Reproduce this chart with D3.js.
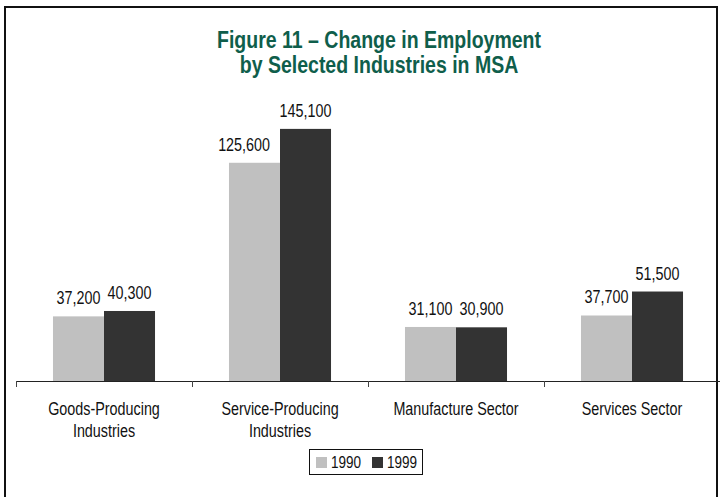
<!DOCTYPE html>
<html>
<head>
<meta charset="utf-8">
<script src="https://cdn.jsdelivr.net/npm/d3@7"></script>
<style>
  html, body { margin: 0; padding: 0; background: #fff; }
  svg { display: block; }
  text { font-family: "Liberation Sans", Arial, sans-serif; }
</style>
</head>
<body>
<svg id="chart" width="720" height="497"></svg>
<script>
const titleLines = ["Figure 11 \u2013 Change in Employment", "by Selected Industries in MSA"];
const categories = [["Goods-Producing", "Industries"], ["Service-Producing", "Industries"], ["Manufacture Sector"], ["Services Sector"]];
const seriesNames = ["1990", "1999"];
const values1990 = [37200, 125600, 31100, 37700];
const values1999 = [40300, 145100, 30900, 51500];
const colors = ["#c0c0c0", "#333333"];

// horizontal squeeze that gives the regular sans a narrow cut
const NARROW = 0.82;

const svg = d3.select("#chart");

function narrowText(parent, x, y, str, size, opts = {}) {
  return parent.append("text")
    .attr("transform", `translate(${x},${y}) scale(${NARROW},1)`)
    .attr("text-anchor", opts.anchor || "middle")
    .attr("font-size", size)
    .attr("font-weight", opts.weight || "normal")
    .attr("fill", opts.fill || "#111")
    .text(str);
}

// outer frame
svg.append("rect")
  .attr("x", 5).attr("y", 7).attr("width", 712).attr("height", 500)
  .attr("fill", "none").attr("stroke", "#111").attr("stroke-width", 2);

// title
titleLines.forEach((t, i) => {
  narrowText(svg, 379, 48 + i * 25, t, 23.8, { weight: "bold", fill: "#0f5e4b" });
});

const x0 = d3.scaleBand().domain(d3.range(categories.length)).range([16, 720]).paddingInner(0).paddingOuter(0);
const x1 = d3.scaleBand().domain(seriesNames).range([0, x0.bandwidth()]).paddingInner(0).paddingOuter(0.725);
const y = d3.scaleLinear().domain([0, 160000]).range([381, 103]);

const data = categories.map((c, i) => ({ i, vals: [values1990[i], values1999[i]] }));

const groups = svg.append("g").selectAll("g").data(data).join("g")
  .attr("transform", d => `translate(${x0(d.i)},0)`);

groups.selectAll("rect").data(d => d.vals.map((v, k) => ({ v, k }))).join("rect")
  .attr("x", d => x1(seriesNames[d.k]))
  .attr("y", d => y(d.v))
  .attr("width", x1.bandwidth())
  .attr("height", d => y(0) - y(d.v))
  .attr("fill", d => colors[d.k]);

// value labels; a label that would run into a taller neighbouring bar slides left
groups.each(function(d) {
  const g = d3.select(this);
  d.vals.forEach((v, k) => {
    const cx = x1(seriesNames[k]) + x1.bandwidth() / 2;
    const ty = y(v) - 12;
    const t = narrowText(g, cx, ty, d3.format(",")(v), 17.5);
    if (k === 0 && y(d.vals[1]) < ty) {
      const w = t.node().getComputedTextLength() * NARROW;
      const barStart = x1(seriesNames[1]);
      if (cx + w / 2 > barStart) {
        t.attr("transform", `translate(${barStart - 10 - w / 2},${ty}) scale(${NARROW},1)`);
      }
    }
  });
});

// category axis
const axis = svg.append("g");
axis.append("line")
  .attr("x1", 16).attr("x2", 720).attr("y1", 381.5).attr("y2", 381.5)
  .attr("stroke", "#222").attr("stroke-width", 1.2);
axis.selectAll("line.tick").data(d3.range(categories.length)).join("line")
  .attr("class", "tick")
  .attr("x1", d => x0(d) + 0.5).attr("x2", d => x0(d) + 0.5)
  .attr("y1", 381).attr("y2", 387)
  .attr("stroke", "#444").attr("stroke-width", 1);

categories.forEach((c, i) => {
  const cx = x0(i) + x0.bandwidth() / 2;
  c.forEach((t, j) => narrowText(axis, cx, 415 + j * 22, t, 17.5));
});

// legend
const leg = svg.append("g");
leg.append("rect")
  .attr("x", 309.5).attr("y", 449.5).attr("width", 113).attr("height", 25)
  .attr("fill", "#fff").attr("stroke", "#111").attr("stroke-width", 1);
const legX = [316, 372];
seriesNames.forEach((s, k) => {
  leg.append("rect").attr("x", legX[k]).attr("y", 457).attr("width", 11).attr("height", 11).attr("fill", colors[k]);
  narrowText(leg, legX[k] + 15, 468, s, 16.5, { anchor: "start" });
});
</script>
</body>
</html>
